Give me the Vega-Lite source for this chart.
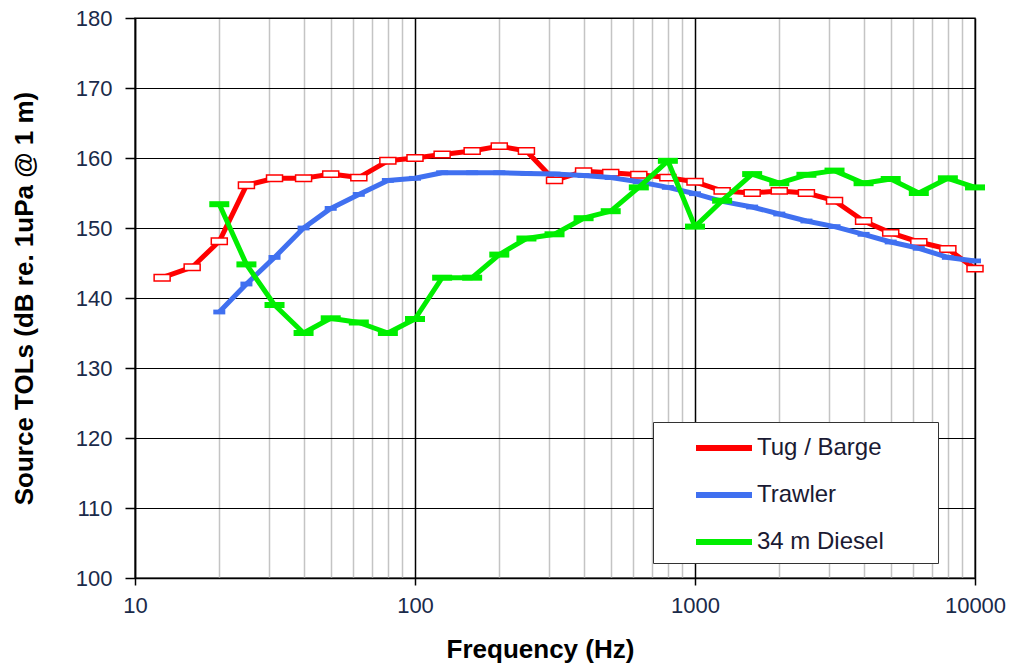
{
  "$schema": "https://vega.github.io/schema/vega-lite/v6.json",
  "width": 840,
  "height": 560,
  "autosize": {"type": "none"},
  "padding": {"left": 135, "top": 18, "right": 36, "bottom": 91},
  "background": "white",
  "config": {
    "font": "Liberation Sans",
    "view": {"stroke": "#555555", "strokeWidth": 1.5},
    "axis": {"labelFont": "Liberation Sans", "titleFont": "Liberation Sans"}
  },
  "datasets": {
    "tol": [
      {"series": "Tug / Barge", "freq": 12.5, "db": 142.9},
      {"series": "Tug / Barge", "freq": 16, "db": 144.4},
      {"series": "Tug / Barge", "freq": 20, "db": 148.1},
      {"series": "Tug / Barge", "freq": 25, "db": 156.1},
      {"series": "Tug / Barge", "freq": 31.5, "db": 157.1},
      {"series": "Tug / Barge", "freq": 40, "db": 157.1},
      {"series": "Tug / Barge", "freq": 50, "db": 157.7},
      {"series": "Tug / Barge", "freq": 63, "db": 157.2},
      {"series": "Tug / Barge", "freq": 80, "db": 159.6},
      {"series": "Tug / Barge", "freq": 100, "db": 160.0},
      {"series": "Tug / Barge", "freq": 125, "db": 160.5},
      {"series": "Tug / Barge", "freq": 160, "db": 161.0},
      {"series": "Tug / Barge", "freq": 200, "db": 161.7},
      {"series": "Tug / Barge", "freq": 250, "db": 161.0},
      {"series": "Tug / Barge", "freq": 315, "db": 156.8},
      {"series": "Tug / Barge", "freq": 400, "db": 158.1},
      {"series": "Tug / Barge", "freq": 500, "db": 157.9},
      {"series": "Tug / Barge", "freq": 630, "db": 157.6},
      {"series": "Tug / Barge", "freq": 800, "db": 157.2},
      {"series": "Tug / Barge", "freq": 1000, "db": 156.6},
      {"series": "Tug / Barge", "freq": 1250, "db": 155.3},
      {"series": "Tug / Barge", "freq": 1600, "db": 155.0},
      {"series": "Tug / Barge", "freq": 2000, "db": 155.3},
      {"series": "Tug / Barge", "freq": 2500, "db": 155.0},
      {"series": "Tug / Barge", "freq": 3150, "db": 153.9},
      {"series": "Tug / Barge", "freq": 4000, "db": 151.0},
      {"series": "Tug / Barge", "freq": 5000, "db": 149.3},
      {"series": "Tug / Barge", "freq": 6300, "db": 148.0},
      {"series": "Tug / Barge", "freq": 8000, "db": 147.0},
      {"series": "Tug / Barge", "freq": 10000, "db": 144.2},
      {"series": "Trawler", "freq": 20, "db": 138.0},
      {"series": "Trawler", "freq": 25, "db": 142.0},
      {"series": "Trawler", "freq": 31.5, "db": 145.8},
      {"series": "Trawler", "freq": 40, "db": 150.0},
      {"series": "Trawler", "freq": 50, "db": 152.8},
      {"series": "Trawler", "freq": 63, "db": 154.8},
      {"series": "Trawler", "freq": 80, "db": 156.8},
      {"series": "Trawler", "freq": 100, "db": 157.1},
      {"series": "Trawler", "freq": 125, "db": 157.9},
      {"series": "Trawler", "freq": 160, "db": 157.9},
      {"series": "Trawler", "freq": 200, "db": 157.9},
      {"series": "Trawler", "freq": 250, "db": 157.8},
      {"series": "Trawler", "freq": 315, "db": 157.7},
      {"series": "Trawler", "freq": 400, "db": 157.5},
      {"series": "Trawler", "freq": 500, "db": 157.2},
      {"series": "Trawler", "freq": 630, "db": 156.6},
      {"series": "Trawler", "freq": 800, "db": 155.8},
      {"series": "Trawler", "freq": 1000, "db": 154.9},
      {"series": "Trawler", "freq": 1250, "db": 153.8},
      {"series": "Trawler", "freq": 1600, "db": 153.0},
      {"series": "Trawler", "freq": 2000, "db": 152.0},
      {"series": "Trawler", "freq": 2500, "db": 151.0},
      {"series": "Trawler", "freq": 3150, "db": 150.2},
      {"series": "Trawler", "freq": 4000, "db": 149.1},
      {"series": "Trawler", "freq": 5000, "db": 148.0},
      {"series": "Trawler", "freq": 6300, "db": 147.1},
      {"series": "Trawler", "freq": 8000, "db": 145.8},
      {"series": "Trawler", "freq": 10000, "db": 145.3},
      {"series": "34 m Diesel", "freq": 20, "db": 153.4},
      {"series": "34 m Diesel", "freq": 25, "db": 144.8},
      {"series": "34 m Diesel", "freq": 31.5, "db": 139.0},
      {"series": "34 m Diesel", "freq": 40, "db": 135.0},
      {"series": "34 m Diesel", "freq": 50, "db": 137.1},
      {"series": "34 m Diesel", "freq": 63, "db": 136.5},
      {"series": "34 m Diesel", "freq": 80, "db": 135.0},
      {"series": "34 m Diesel", "freq": 100, "db": 137.0},
      {"series": "34 m Diesel", "freq": 125, "db": 142.9},
      {"series": "34 m Diesel", "freq": 160, "db": 142.9},
      {"series": "34 m Diesel", "freq": 200, "db": 146.2},
      {"series": "34 m Diesel", "freq": 250, "db": 148.5},
      {"series": "34 m Diesel", "freq": 315, "db": 149.1},
      {"series": "34 m Diesel", "freq": 400, "db": 151.4},
      {"series": "34 m Diesel", "freq": 500, "db": 152.4},
      {"series": "34 m Diesel", "freq": 630, "db": 155.8},
      {"series": "34 m Diesel", "freq": 800, "db": 159.6},
      {"series": "34 m Diesel", "freq": 1000, "db": 150.2},
      {"series": "34 m Diesel", "freq": 1250, "db": 153.9},
      {"series": "34 m Diesel", "freq": 1600, "db": 157.7},
      {"series": "34 m Diesel", "freq": 2000, "db": 156.4},
      {"series": "34 m Diesel", "freq": 2500, "db": 157.6},
      {"series": "34 m Diesel", "freq": 3150, "db": 158.2},
      {"series": "34 m Diesel", "freq": 4000, "db": 156.4},
      {"series": "34 m Diesel", "freq": 5000, "db": 157.0},
      {"series": "34 m Diesel", "freq": 6300, "db": 155.0},
      {"series": "34 m Diesel", "freq": 8000, "db": 157.1},
      {"series": "34 m Diesel", "freq": 10000, "db": 155.8}
    ]
  },
  "data": {"name": "tol"},
  "encoding": {
    "x": {
      "field": "freq",
      "type": "quantitative",
      "scale": {"type": "log", "domain": [10, 10000], "nice": false},
      "axis": {
        "title": "Frequency (Hz)",
        "titleFontSize": 26,
        "titleFontWeight": "bold",
        "titleColor": "#000000",
        "titlePadding": 20,
        "titleX": 405,
        "titleAlign": "center",
        "format": "d",
        "values": [10,20,30,40,50,60,70,80,90,100,200,300,400,500,600,700,800,900,1000,2000,3000,4000,5000,6000,7000,8000,9000,10000],
        "labelExpr": "indexof([10,100,1000,10000], datum.value) >= 0 ? datum.label : ''",
        "labelFontSize": 22,
        "labelColor": "#1a2a4a",
        "labelPadding": 10,
        "labelFlush": false,
        "labelOverlap": false,
        "domainColor": "#000000",
        "domainWidth": 1.5,
        "tickSize": 7,
        "tickWidth": 1.5,
        "tickColor": {"condition": {"test": "indexof([10,100,1000,10000], datum.value) >= 0", "value": "#000000"}, "value": "rgba(0,0,0,0)"},
        "grid": true,
        "gridColor": {"condition": {"test": "indexof([10,100,1000,10000], datum.value) >= 0", "value": "#000000"}, "value": "#c4c4c4"},
        "gridWidth": 1.5
      }
    },
    "y": {
      "field": "db",
      "type": "quantitative",
      "scale": {"domain": [100, 180], "nice": false, "zero": false},
      "axis": {
        "title": "Source TOLs (dB re. 1uPa @ 1 m)",
        "titleFontSize": 26,
        "titleFontWeight": "bold",
        "titleColor": "#000000",
        "titlePadding": 38,
        "values": [100,110,120,130,140,150,160,170,180],
        "labelFontSize": 22,
        "labelColor": "#1a2a4a",
        "labelPadding": 13,
        "labelFlush": false,
        "domainColor": "#000000",
        "domainWidth": 1.5,
        "tickSize": 10,
        "tickWidth": 1.5,
        "tickColor": "#000000",
        "grid": true,
        "gridColor": "#000000",
        "gridWidth": 1.2
      }
    }
  },
  "layer": [
    {
      "transform": [{"filter": "datum.series == 'Tug / Barge'"}],
      "mark": {"type": "line", "strokeWidth": 5, "strokeJoin": "round"},
      "encoding": {
        "color": {
          "field": "series",
          "type": "nominal",
          "scale": {"domain": ["Tug / Barge", "Trawler", "34 m Diesel"], "range": ["#ff0000", "#4070f0", "#00ee00"]},
          "legend": {
            "title": null,
            "orient": "none",
            "legendX": 518,
            "legendY": 404,
            "direction": "vertical",
            "fillColor": "#ffffff",
            "strokeColor": "#333333",
            "padding": 9,
            "symbolOffset": 45,
            "symbolType": "M-2,0H2",
            "symbolSize": 784,
            "symbolStrokeWidth": 6,
            "labelOffset": 16,
            "labelFontSize": 24,
            "labelLimit": 400,
            "labelColor": "#1a1a33",
            "labelFont": "Liberation Sans",
            "rowPadding": 18,
            "labelExpr": "datum.label + '\u00a0\u00a0\u00a0\u00a0\u2800'"
          }
        }
      }
    },
    {
      "transform": [{"filter": "datum.series == 'Tug / Barge'"}],
      "mark": {"type": "point", "shape": "M-1,-0.4H1V0.4H-1Z", "size": 256, "filled": false, "fill": "#ffffff", "fillOpacity": 1, "stroke": "#ff0000", "strokeWidth": 1.5, "opacity": 1}
    },
    {
      "transform": [{"filter": "datum.series == 'Trawler'"}],
      "mark": {"type": "line", "strokeWidth": 5, "strokeJoin": "round"},
      "encoding": {"color": {"field": "series", "type": "nominal"}}
    },
    {
      "transform": [{"filter": "datum.series == 'Trawler'"}],
      "mark": {"type": "point", "shape": "M-1,-0.4H1V0.4H-1Z", "size": 144, "filled": true, "color": "#4070f0", "opacity": 1}
    },
    {
      "transform": [{"filter": "datum.series == '34 m Diesel'"}],
      "mark": {"type": "line", "strokeWidth": 5, "strokeJoin": "round"},
      "encoding": {"color": {"field": "series", "type": "nominal"}}
    },
    {
      "transform": [{"filter": "datum.series == '34 m Diesel'"}],
      "mark": {"type": "point", "shape": "M-1,-0.3H1V0.3H-1Z", "size": 400, "filled": true, "color": "#00ee00", "opacity": 1}
    }
  ]
}
